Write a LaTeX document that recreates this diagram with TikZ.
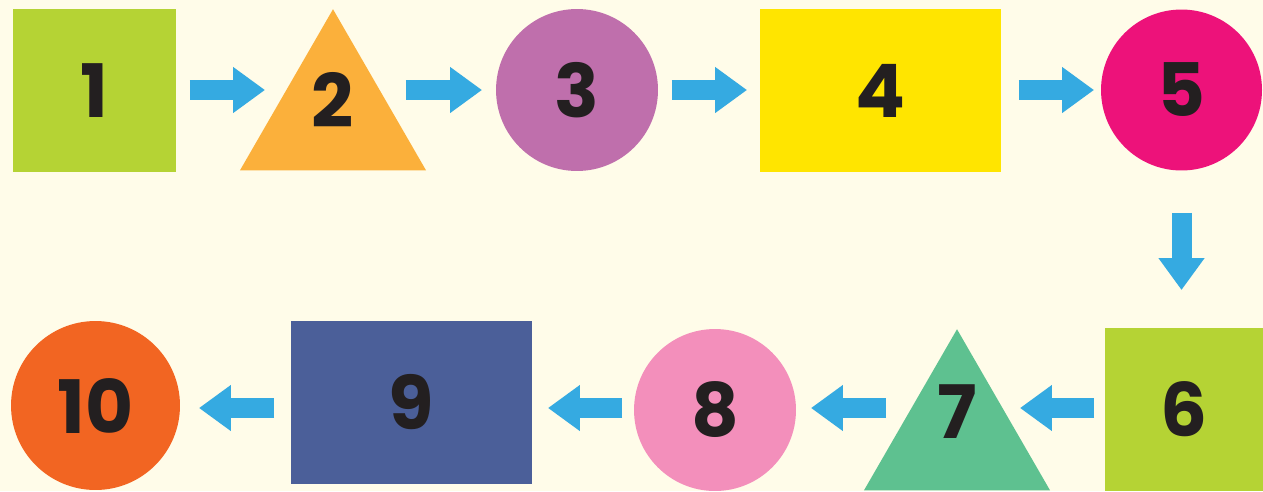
\documentclass[tikz,border=0pt]{standalone}
\usepackage{fontspec}
\setmainfont{Poppins}
\usetikzlibrary{shapes, arrows.meta, positioning}
\definecolor{bgcol}{HTML}{FFFCE9}
\definecolor{lime}{HTML}{B5D334}
\definecolor{amber}{HTML}{FBB03B}
\definecolor{plum}{HTML}{BF6FAC}
\definecolor{lemon}{HTML}{FFE500}
\definecolor{rosy}{HTML}{ED127A}
\definecolor{mint}{HTML}{5EC190}
\definecolor{blush}{HTML}{F38FBB}
\definecolor{navy}{HTML}{4B5F99}
\definecolor{tangerine}{HTML}{F26522}
\definecolor{sky}{HTML}{35AAE1}
\definecolor{ink}{HTML}{231F20}

\begin{document}
\begin{tikzpicture}[x=0.02cm, y=-0.02cm,
		every node/.style={inner sep=0pt, text=ink, font=\fontsize{42}{42}\selectfont\bfseries},
		tri/.style={regular polygon, regular polygon sides=3, minimum size=4.3cm},
		flow/.style={draw=sky, line width=0.4cm, -{Triangle[length=0.64cm, width=0.88cm]}}]
		\fill[bgcol] (0,0) rectangle (1263,491);
		\useasboundingbox (0,0) rectangle (1263,491);
		% top row
		\node[fill=lime, minimum size=3.26cm] (n1) at (94.5,90.5) {1};
		\node[tri, fill=amber, label={[yshift=0.33cm]center:2}] (n2) at (333,116.7) {};
		\node[circle, fill=plum, minimum size=3.24cm] (n3) at (577,90) {3};
		\node[fill=lemon, minimum width=4.82cm, minimum height=3.26cm] (n4) at (880.5,90.5) {4};
		\node[circle, fill=rosy, minimum size=3.22cm] (n5) at (1181.5,90) {5};
		% bottom row
		\node[fill=lime, minimum width=3.16cm, minimum height=3.26cm] (n6) at (1184,409.5) {6};
		\node[tri, fill=mint, label={[yshift=0.51cm]center:7}] (n7) at (957,436.7) {};
		\node[circle, fill=blush, minimum size=3.24cm] (n8) at (715,410) {8};
		\node[fill=navy, minimum width=4.82cm, minimum height=3.26cm] (n9) at (411.5,402.5) {9};
		\node[circle, fill=tangerine, minimum size=3.38cm] (n10) at (95.5,405.5) {10};
		\foreach \from/\to/\y/\s/\e in {n1/n2/90/1.91/1.36, n2/n3/90/1.46/1.90, n3/n4/90/1.90/2.67,
			n4/n5/90/2.77/1.75, n6/n7/408/1.80/1.26, n7/n8/408/1.42/1.92, n8/n9/408/1.86/2.73, n9/n10/408/2.75/2.07}
			\draw[flow, shorten <=\s cm, shorten >=\e cm] (\from |- 0,\y) -- (\to |- 0,\y);
		\draw[flow, shorten <=2.46cm, shorten >=2.39cm] (n5.center) -- (n5.center |- n6.center);
	\end{tikzpicture}
\end{document}
